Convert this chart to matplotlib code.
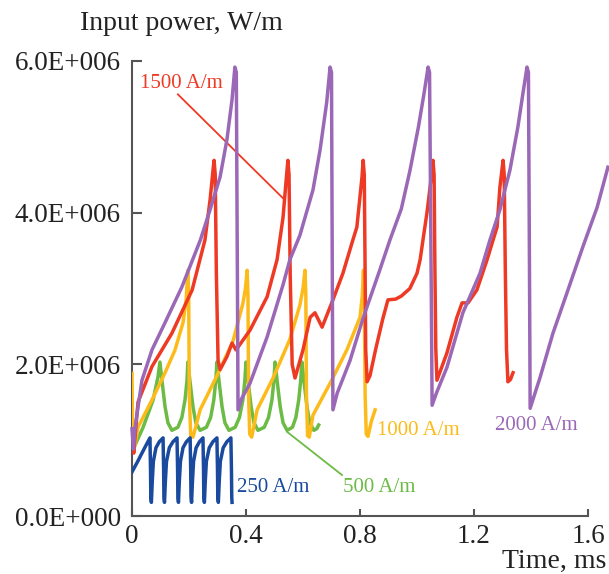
import matplotlib
matplotlib.use("Agg")
import matplotlib.pyplot as plt
import numpy as np

plt.rcParams['font.family'] = ['Liberation Serif', 'DejaVu Serif']

# time in ms, input power in units of 1e6 W/m
t_250 = [0.000, 0.020, 0.035, 0.053, 0.063,
         0.065, 0.066, 0.068, 0.071, 0.075, 0.084, 0.096, 0.109,
         0.111, 0.112, 0.114, 0.117, 0.121, 0.131, 0.144, 0.158,
         0.160, 0.161, 0.163, 0.166, 0.170, 0.179, 0.191, 0.204,
         0.206, 0.207, 0.209, 0.212, 0.216, 0.225, 0.237, 0.249,
         0.251, 0.252, 0.254, 0.257, 0.261, 0.271, 0.284, 0.298,
         0.300, 0.301, 0.303, 0.306, 0.310, 0.320, 0.333, 0.347,
         0.349, 0.350, 0.351]
p_250 = [0.58, 0.72, 0.83, 0.96, 1.03,
         0.60, 0.25, 0.18, 0.45, 0.72, 0.90, 0.98, 1.03,
         0.60, 0.25, 0.18, 0.45, 0.72, 0.90, 0.98, 1.03,
         0.60, 0.25, 0.18, 0.45, 0.72, 0.90, 0.98, 1.03,
         0.60, 0.25, 0.18, 0.45, 0.72, 0.90, 0.98, 1.03,
         0.60, 0.25, 0.18, 0.45, 0.72, 0.90, 0.98, 1.03,
         0.60, 0.25, 0.18, 0.45, 0.72, 0.90, 0.98, 1.03,
         0.60, 0.25, 0.18]

t_500 = [0.000, 0.004, 0.039, 0.074, 0.091, 0.098,
         0.105, 0.116, 0.126, 0.140, 0.161, 0.175, 0.186, 0.193, 0.196,
         0.203, 0.214, 0.224, 0.239, 0.261, 0.276, 0.287, 0.294, 0.298,
         0.305, 0.316, 0.326, 0.340, 0.362, 0.377, 0.389, 0.396, 0.400,
         0.407, 0.418, 0.428, 0.442, 0.464, 0.479, 0.491, 0.498, 0.502,
         0.509, 0.520, 0.530, 0.544, 0.563, 0.575, 0.585, 0.592, 0.596,
         0.603, 0.614, 0.624, 0.638, 0.648, 0.655]
p_500 = [0.95, 0.88, 1.17, 1.53, 1.83, 2.03,
         1.79, 1.44, 1.23, 1.13, 1.17, 1.30, 1.53, 1.79, 2.03,
         1.79, 1.44, 1.23, 1.13, 1.17, 1.30, 1.53, 1.79, 2.03,
         1.79, 1.44, 1.23, 1.13, 1.17, 1.30, 1.53, 1.79, 2.03,
         1.79, 1.44, 1.23, 1.13, 1.17, 1.30, 1.53, 1.79, 2.03,
         1.79, 1.44, 1.23, 1.13, 1.17, 1.30, 1.53, 1.79, 2.03,
         1.79, 1.44, 1.23, 1.13, 1.15, 1.20]

t_1000 = [0.000, 0.002, 0.006, 0.021, 0.070, 0.116, 0.151, 0.179, 0.190, 0.196,
          0.199, 0.201, 0.206, 0.214,
          0.239, 0.298, 0.354, 0.389, 0.398, 0.404,
          0.407, 0.409, 0.413, 0.420,
          0.439, 0.495, 0.554, 0.589, 0.600, 0.607,
          0.610, 0.612, 0.616, 0.622,
          0.635, 0.695, 0.754, 0.800, 0.808, 0.812,
          0.815, 0.818, 0.822, 0.828,
          0.840, 0.853]
p_1000 = [1.88, 1.00, 0.85, 1.17, 1.53, 1.89, 2.19, 2.55, 2.85, 3.24,
          2.90, 1.60, 1.06, 1.04,
          1.40, 1.85, 2.30, 2.80, 3.00, 3.24,
          2.90, 1.60, 1.08, 1.04,
          1.40, 1.82, 2.33, 2.78, 3.00, 3.24,
          2.90, 1.60, 1.06, 1.04,
          1.33, 1.75, 2.19, 2.62, 2.90, 3.24,
          2.90, 1.60, 1.08, 1.05,
          1.25, 1.40]

t_1500 = [0.000, 0.006, 0.021, 0.070, 0.140, 0.211, 0.256, 0.274, 0.284, 0.288,
          0.292, 0.296, 0.302, 0.309,
          0.333, 0.351, 0.365, 0.414, 0.474, 0.509, 0.530, 0.540, 0.547,
          0.551, 0.555, 0.562, 0.572,
          0.600, 0.625, 0.642, 0.667, 0.705, 0.740, 0.775, 0.789, 0.807, 0.811,
          0.815, 0.818, 0.820, 0.825,
          0.835, 0.855, 0.880, 0.898, 0.925, 0.945, 0.975, 1.000, 1.011, 1.021, 1.035, 1.046, 1.056,
          1.060, 1.063, 1.066, 1.070,
          1.105, 1.140, 1.158, 1.179, 1.210, 1.246, 1.267, 1.281, 1.291, 1.302,
          1.306, 1.310, 1.314, 1.319, 1.328, 1.337]
p_1500 = [1.10, 0.83, 1.50, 1.97, 2.41, 2.98, 3.64, 4.17, 4.55, 4.69,
          4.50, 3.20, 2.05, 1.93,
          2.10, 2.28, 2.19, 2.45, 2.89, 3.38, 3.94, 4.39, 4.69,
          4.50, 3.20, 2.00, 1.82,
          2.19, 2.62, 2.68, 2.49, 2.85, 3.20, 3.64, 3.81, 4.47, 4.69,
          4.50, 3.20, 2.20, 1.77,
          1.85, 2.20, 2.60, 2.85, 2.86, 2.90, 3.00, 3.20, 3.38, 3.64, 4.00, 4.34, 4.69,
          4.50, 3.20, 2.20, 1.79,
          2.15, 2.62, 2.81, 2.81, 2.98, 3.38, 3.64, 3.81, 4.34, 4.69,
          4.50, 3.20, 2.20, 1.77, 1.80, 1.89]

t_2000 = [0.000, 0.005, 0.012, 0.035, 0.070, 0.116, 0.175, 0.240, 0.274, 0.309, 0.333, 0.351, 0.361,
          0.366, 0.370, 0.372,
          0.385, 0.414, 0.474, 0.530, 0.554, 0.589, 0.635, 0.660, 0.683, 0.695,
          0.700, 0.703, 0.705,
          0.720, 0.765, 0.810, 0.870, 0.905, 0.945, 0.975, 1.005, 1.025, 1.039,
          1.044, 1.050, 1.053,
          1.068, 1.105, 1.161, 1.221, 1.256, 1.291, 1.326, 1.354, 1.372, 1.386,
          1.391, 1.395, 1.397,
          1.432, 1.477, 1.526, 1.582, 1.632, 1.670]
p_2000 = [1.15, 0.88, 1.20, 1.79, 2.19, 2.55, 3.02, 3.64, 4.04, 4.47, 4.96, 5.49, 5.92,
          5.85, 3.00, 1.40,
          1.55, 1.75, 2.36, 3.05, 3.38, 3.70, 4.30, 4.83, 5.45, 5.92,
          5.85, 3.00, 1.40,
          1.62, 2.05, 2.60, 3.25, 3.64, 4.05, 4.55, 5.13, 5.58, 5.92,
          5.85, 3.00, 1.46,
          1.62, 1.96, 2.68, 3.20, 3.64, 4.04, 4.56, 5.13, 5.58, 5.92,
          5.85, 3.00, 1.42,
          1.83, 2.41, 2.94, 3.55, 4.07, 4.60]

x_ticks = [0, 0.4, 0.8, 1.2, 1.6]
x_tick_labels = ['0', '0.4', '0.8', '1.2', '1.6']
y_ticks = [0, 2e6, 4e6, 6e6]
y_tick_labels = ['0.0E+000', '2.0E+006', '4.0E+006', '6.0E+006']

c250 = '#1a4a9e'
c500 = '#6cbb45'
c1000 = '#fdbb1b'
c1500 = '#ee3a24'
c2000 = '#9a68b6'

fig = plt.figure(figsize=(6.09, 5.74), dpi=100)
ax = fig.add_axes([132 / 609, 58 / 574, 456 / 609, 455 / 574])

lw = 2.5
ax.plot(t_500, np.array(p_500) * 1e6, color=c500, lw=lw, solid_joinstyle='round', zorder=2)
ax.plot(t_1000, np.array(p_1000) * 1e6, color=c1000, lw=lw, solid_joinstyle='round', zorder=3)
ax.plot(t_1500, np.array(p_1500) * 1e6, color=c1500, lw=lw, solid_joinstyle='round', zorder=4)
ax.plot(t_2000, np.array(p_2000) * 1e6, color=c2000, lw=lw, solid_joinstyle='round', zorder=5,
        clip_on=False)
ax.plot(t_250, np.array(p_250) * 1e6, color=c250, lw=lw, solid_joinstyle='round', zorder=6)

# leader lines for the labels
ax.plot([0.161, 0.530], [5.56e6, 4.19e6], color=c1500, lw=1.3, zorder=4)
ax.plot([0.544, 0.737], [1.11e6, 0.54e6], color=c500, lw=1.3, zorder=2)

lab_fs = 15
ax.text(0.028, 5.7e6, '1500 A/m', color=c1500, fontsize=lab_fs, ha='left', va='center')
ax.text(1.274, 1.20e6, '2000 A/m', color=c2000, fontsize=lab_fs, ha='left', va='center')
ax.text(0.860, 1.13e6, '1000 A/m', color=c1000, fontsize=lab_fs, ha='left', va='center')
ax.text(0.740, 0.37e6, '500 A/m', color=c500, fontsize=lab_fs, ha='left', va='center')
ax.text(0.368, 0.37e6, '250 A/m', color=c250, fontsize=lab_fs, ha='left', va='center')

ax.set_xlim(0, 1.6)
ax.set_ylim(0, 6e6)
ax.set_xticks(x_ticks)
ax.set_xticklabels(x_tick_labels)
ax.set_yticks(y_ticks)
ax.set_yticklabels(y_tick_labels)

for side in ['top', 'right']:
    ax.spines[side].set_visible(False)
for side in ['left', 'bottom']:
    ax.spines[side].set_color('#555555')
    ax.spines[side].set_linewidth(1.5)

ax.tick_params(axis='both', direction='in', colors='#555555', width=1.5, labelcolor='#222222',
               labelsize=19.5)
ax.tick_params(axis='y', length=7, pad=8)
ax.tick_params(axis='x', length=5, pad=6)

fig.text(80 / 609, 1 - 23 / 574, 'Input power, W/m', fontsize=20, color='#222222',
         ha='left', va='center')
fig.text(606 / 609, 1 - 561 / 574, 'Time, ms', fontsize=20, color='#222222',
         ha='right', va='center')

fig.savefig('out.png', dpi=100)
